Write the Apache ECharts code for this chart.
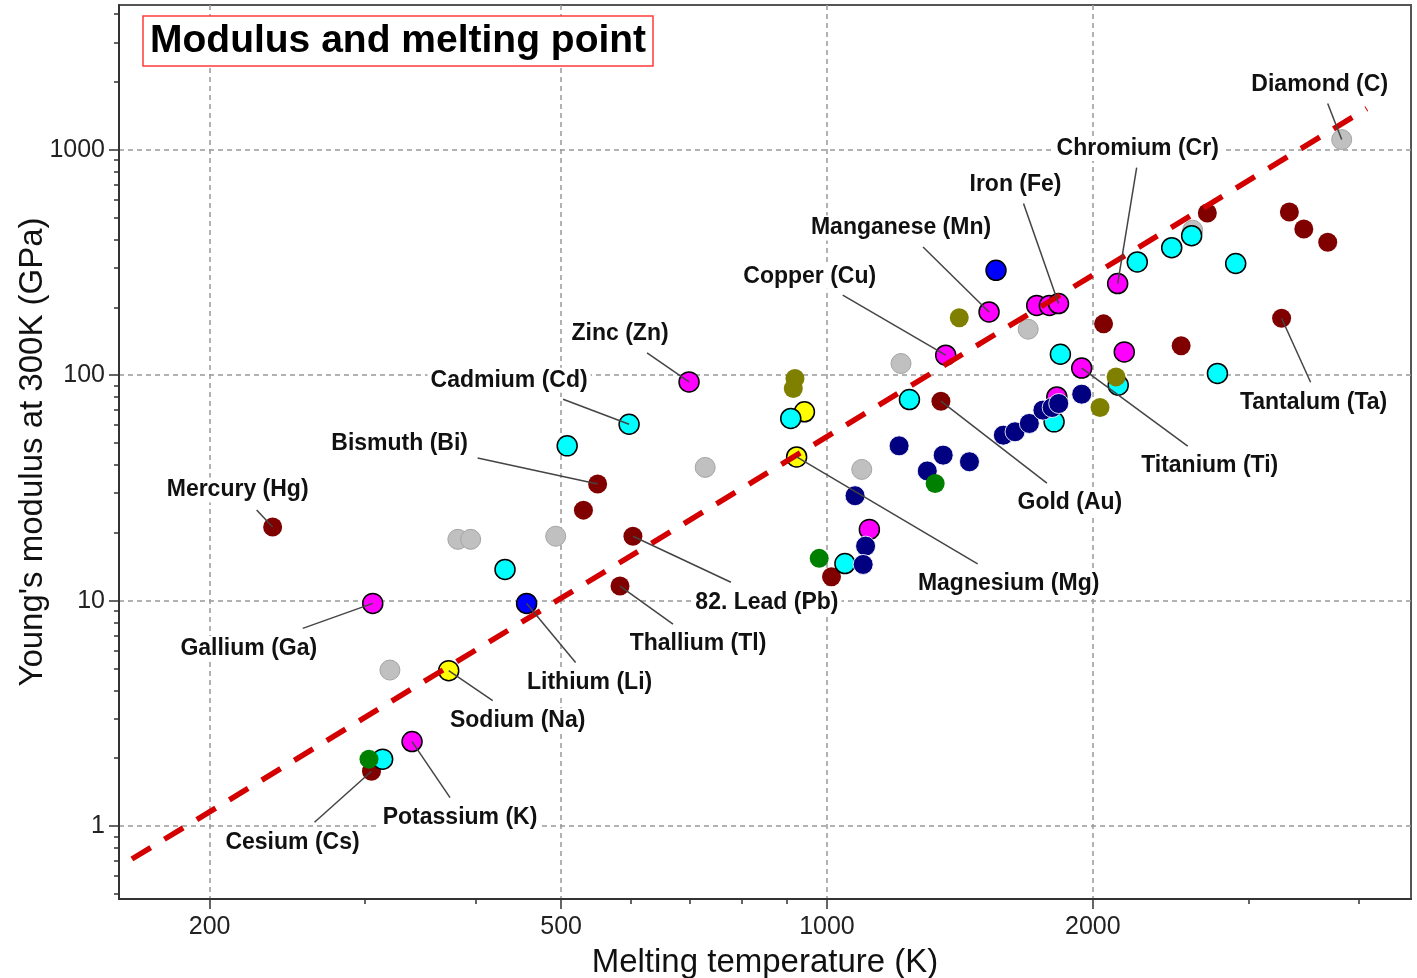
<!DOCTYPE html>
<html>
<head>
<meta charset="utf-8">
<title>Modulus and melting point</title>
<script src="https://cdn.jsdelivr.net/npm/echarts@6/dist/echarts.min.js"></script>
<style>
  html, body { margin: 0; padding: 0; background: #fff; }
  #chart { width: 1417px; height: 978px; }
</style>
</head>
<body>
<div id="chart"></div>
<script>
// [melting temperature K, Young's modulus GPa, label]
const magenta = [
  [698, 93.4, 'Zinc (Zn)'],
  [306, 9.72, 'Gallium (Ga)'],
  [339, 2.37, 'Potassium (K)'],
  [1363, 122.7, 'Copper (Cu)'],
  [1526, 190.8, 'Manganese (Mn)'],
  [1728, 204],
  [1786, 204],
  [1829, 208, 'Iron (Fe)'],
  [2134, 255, 'Chromium (Cr)'],
  [1943, 107.6, 'Titanium (Ti)'],
  [2171, 126.9],
  [1117, 20.7],
  [1821, 80.1]
]
const cyan = [
  [597, 60.6, 'Cadmium (Cd)'],
  [508, 48.6],
  [432, 13.75],
  [314, 1.98],
  [910, 64.3],
  [1240, 78],
  [1048, 14.6],
  [1838, 123.9],
  [1808, 62.1],
  [2137, 90.3],
  [2768, 101.8],
  [2246, 318],
  [2457, 368],
  [2588, 416],
  [2903, 313]
]
const maroon = [
  [235.7, 21.2, 'Mercury (Hg)'],
  [305, 1.75, 'Cesium (Cs)'],
  [550, 32.9, 'Bismuth (Bi)'],
  [530, 25.2],
  [603, 19.3, '82. Lead (Pb)'],
  [583, 11.6, 'Thallium (Tl)'],
  [1012, 12.75],
  [1346, 76.7, 'Gold (Au)'],
  [2057, 169],
  [2518, 135],
  [3272, 179, 'Tantalum (Ta)'],
  [2696, 524],
  [3339, 530],
  [3467, 445],
  [3690, 389]
]
const gray = [
  [320, 4.92],
  [382, 18.7],
  [395, 18.7],
  [493, 19.3],
  [728, 39],
  [1095, 38.2],
  [1213, 112.7],
  [1690, 160],
  [2595, 440],
  [3827, 1110, 'Diamond (C)']
]
const olive = [
  [916, 87.3],
  [920, 96.7],
  [1412, 180],
  [2038, 71.9],
  [2125, 98.3]
]
const navy = [
  [1207, 48.6],
  [1354, 44.2],
  [1450, 41.3],
  [1299, 37.6],
  [1076, 29.2],
  [1106, 17.45],
  [1099, 14.47],
  [1584, 54.2],
  [1633, 56.1],
  [1695, 61.1],
  [1756, 70],
  [1799, 71.9],
  [1830, 74.9],
  [1943, 82.4]
]
const blue = [
  [457, 9.72, 'Lithium (Li)'],
  [1554, 292]
]
const yellow = [
  [373, 4.89, 'Sodium (Na)'],
  [943, 68.8],
  [924, 43.4, 'Magnesium (Mg)']
]
const green = [
  [303, 1.98],
  [980, 15.4],
  [1326, 33.1]
]
// dashed trend line end points
const trend = [[163.3, 0.714], [4086, 1523]]

const xMajor = [200, 500, 1000, 2000]
const xMinor = [300, 400, 600, 700, 800, 900, 3000, 4000]
const yMajor = [1, 10, 100, 1000]
const yMinor = [0.5, 0.6, 0.7, 0.8, 0.9, 2, 3, 4, 5, 6, 7, 8, 9,
  20, 30, 40, 50, 60, 70, 80, 90, 200, 300, 400, 500, 600, 700, 800, 900,
  2000, 3000, 4000]

// label centre, in pixels from its point
const labelOffset = {
  'Diamond (C)': [-22, -55],
  'Chromium (Cr)': [20, -135],
  'Iron (Fe)': [-43, -119],
  'Manganese (Mn)': [-88, -84],
  'Copper (Cu)': [-136, -79],
  'Zinc (Zn)': [-69, -48],
  'Cadmium (Cd)': [-120, -44],
  'Bismuth (Bi)': [-198, -40],
  'Mercury (Hg)': [-35, -37],
  'Gallium (Ga)': [-124, 45],
  'Lithium (Li)': [63, 79],
  'Sodium (Na)': [69, 50],
  'Potassium (K)': [48, 76],
  'Cesium (Cs)': [-79, 71],
  'Thallium (Tl)': [78, 58],
  '82. Lead (Pb)': [134, 66],
  'Magnesium (Mg)': [212, 127],
  'Gold (Au)': [129, 101],
  'Titanium (Ti)': [128, 98],
  'Tantalum (Ta)': [32, 84]
}
// where the leader line leaves the label, from the label centre
const lineStart = {
  'Diamond (C)': [8, 19],
  'Chromium (Cr)': [-1, 19],
  'Iron (Fe)': [8, 19],
  'Manganese (Mn)': [22, 19],
  'Copper (Cu)': [33, 19],
  'Zinc (Zn)': [27, 19],
  'Cadmium (Cd)': [54, 19],
  'Bismuth (Bi)': [78, 14],
  'Mercury (Hg)': [19, 20],
  'Gallium (Ga)': [54, -20],
  'Lithium (Li)': [-14, -20],
  'Sodium (Na)': [-25, -20],
  'Potassium (K)': [-10, -20],
  'Cesium (Cs)': [22, -20],
  'Thallium (Tl)': [-25, -20],
  '82. Lead (Pb)': [-36, -20],
  'Magnesium (Mg)': [-31, -20],
  'Gold (Au)': [-23, -19],
  'Titanium (Ti)': [-22, -20],
  'Tantalum (Ta)': [-3, -20]
}

const FONT = 'Liberation Sans, Arial, sans-serif'
const xMin = 157.9, xMax = 4585, yMin = 0.4745, yMax = 4390

const annotated = [].concat(magenta, cyan, maroon, gray, olive, navy, blue, yellow, green)
  .filter(function (d) { return d[2] })

function dotSeries(list, color, border, size) {
  return {
    type: 'scatter',
    symbolSize: size,
    itemStyle: {
      color: color,
      borderColor: border ? border.color : 'transparent',
      borderWidth: border ? border.width : 0,
      opacity: 1
    },
    emphasis: { disabled: true },
    data: list.map(function (d) { return [d[0], d[1]] })
  }
}

const chart = echarts.init(document.getElementById('chart'))

const blackEdge = { color: '#000', width: 1.5 }
const plainNumber = function (v) { return String(v) }

chart.setOption({
  animation: false,
  backgroundColor: '#fff',
  title: {
    text: 'Modulus and melting point',
    left: 143,
    top: 16,
    padding: [3, 7],
    backgroundColor: '#fff',
    borderColor: '#ff3b3b',
    borderWidth: 1.5,
    textStyle: {
      fontFamily: FONT,
      fontWeight: 'bold',
      fontSize: 39,
      lineHeight: 44,
      color: '#000'
    }
  },
  grid: {
    left: 119,
    right: 6,
    top: 5,
    bottom: 79,
    outerBoundsMode: 'none',
    containLabel: false,
    show: true,
    borderColor: '#555',
    borderWidth: 2,
    backgroundColor: '#fff'
  },
  xAxis: [
    {
      type: 'log',
      min: xMin,
      max: xMax,
      name: 'Melting temperature (K)',
      nameLocation: 'middle',
      nameGap: 47,
      nameMoveOverlap: false,
      nameTextStyle: { fontFamily: FONT, fontSize: 33, color: '#111' },
      axisLine: { show: true, lineStyle: { color: '#333', width: 2 } },
      axisTick: { show: true, length: 10, customValues: xMajor, lineStyle: { color: '#333', width: 1.5 } },
      axisLabel: { customValues: xMajor, formatter: plainNumber, fontFamily: FONT, fontSize: 25, color: '#222', margin: 16 },
      splitLine: { show: true, lineStyle: { color: '#999', width: 1.5, type: [5, 4] } }
    },
    {
      type: 'log',
      min: xMin,
      max: xMax,
      position: 'bottom',
      axisLine: { show: false },
      axisTick: { show: true, length: 5, customValues: xMinor, lineStyle: { color: '#333', width: 1.5 } },
      axisLabel: { show: false },
      splitLine: { show: false }
    }
  ],
  yAxis: [
    {
      type: 'log',
      min: yMin,
      max: yMax,
      name: "Young's modulus at 300K (GPa)",
      nameLocation: 'middle',
      nameGap: 70,
      nameMoveOverlap: false,
      nameTextStyle: { fontFamily: FONT, fontSize: 33, color: '#111' },
      axisLine: { show: true, lineStyle: { color: '#333', width: 2 } },
      axisTick: { show: true, length: 10, customValues: yMajor, lineStyle: { color: '#333', width: 1.5 } },
      axisLabel: { customValues: yMajor, formatter: plainNumber, fontFamily: FONT, fontSize: 25, color: '#222', margin: 14 },
      splitLine: { show: true, lineStyle: { color: '#999', width: 1.5, type: [5, 4] } }
    },
    {
      type: 'log',
      min: yMin,
      max: yMax,
      position: 'left',
      axisLine: { show: false },
      axisTick: { show: true, length: 5, customValues: yMinor, lineStyle: { color: '#333', width: 1.5 } },
      axisLabel: { show: false },
      splitLine: { show: false }
    }
  ],
  series: [
    dotSeries(gray, '#c0c0c0', { color: '#a4a4a4', width: 1 }, 20),
    dotSeries(maroon, '#800000', null, 19),
    dotSeries(yellow, '#ffff00', blackEdge, 20),
    dotSeries(cyan, '#00ffff', blackEdge, 20),
    dotSeries(magenta, '#ff00ff', blackEdge, 20),
    dotSeries(navy, '#000080', { color: 'rgba(255,255,255,0.85)', width: 1 }, 20),
    dotSeries(olive, '#808000', null, 19),
    dotSeries(blue, '#0000ff', blackEdge, 20),
    dotSeries(green, '#008000', null, 19),
    {
      type: 'line',
      data: trend,
      showSymbol: false,
      symbol: 'none',
      silent: true,
      lineStyle: { color: '#d40000', width: 5.5, type: [22, 16], cap: 'butt' },
      z: 5
    },
    {
      // element names with leader lines
      type: 'custom',
      silent: true,
      clip: false,
      z: 6,
      data: annotated.map(function (d) { return [d[0], d[1]] }),
      renderItem: function (params, api) {
        const name = annotated[params.dataIndex][2]
        const p = api.coord([api.value(0), api.value(1)])
        const off = labelOffset[name]
        const st = lineStart[name]
        const lx = p[0] + off[0]
        const ly = p[1] + off[1]
        return {
          type: 'group',
          children: [
            {
              type: 'line',
              shape: { x1: lx + st[0], y1: ly + st[1], x2: p[0], y2: p[1] },
              style: { stroke: '#444', lineWidth: 1.5 }
            },
            {
              type: 'text',
              x: lx,
              y: ly,
              style: {
                text: name,
                align: 'center',
                verticalAlign: 'middle',
                fontFamily: FONT,
                fontWeight: 'bold',
                fontSize: 23,
                fill: '#111',
                backgroundColor: '#fff',
                padding: [1, 3]
              }
            }
          ]
        }
      }
    }
  ]
})
</script>
</body>
</html>
